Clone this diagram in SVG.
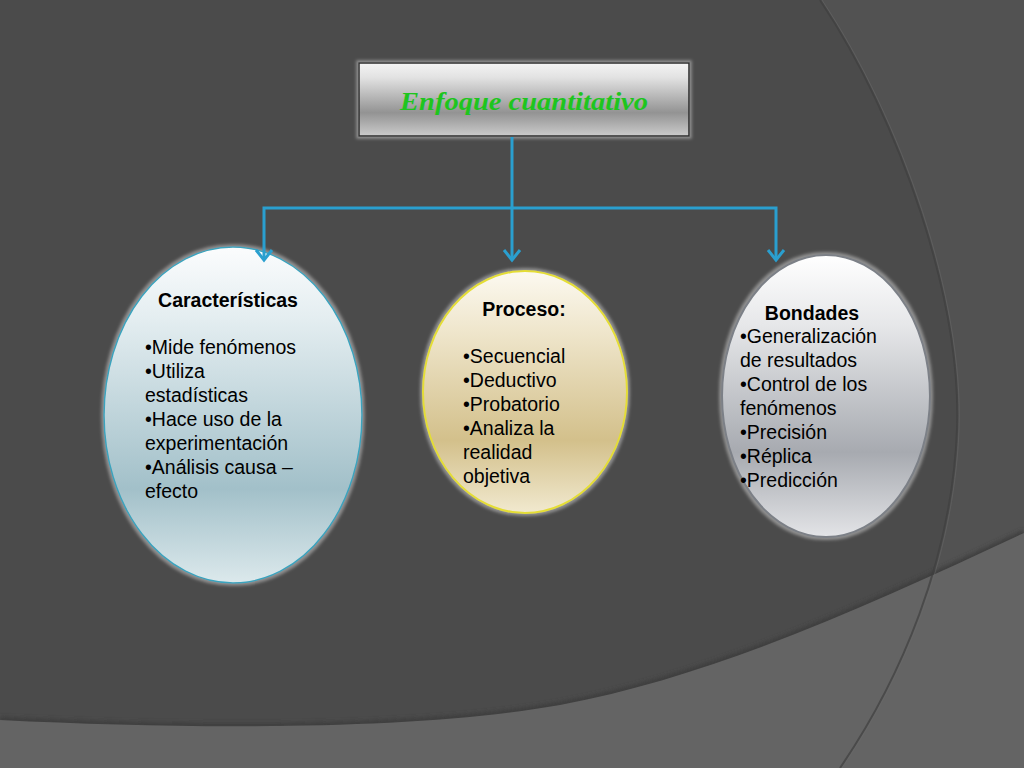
<svg xmlns="http://www.w3.org/2000/svg" width="1024" height="768" viewBox="0 0 1024 768">
<defs>
<style>
.t{font-family:"Liberation Sans",Arial,sans-serif;font-size:19.5px;fill:#000}
.h{font-weight:bold}
.conn{fill:none;stroke:#2a9fcf;stroke-width:3;stroke-linejoin:miter}
</style>
<linearGradient id="gTitle" x1="0" y1="0" x2="0" y2="1">
<stop offset="0" stop-color="#f4f4f4"/><stop offset="0.2" stop-color="#e2e2e2"/><stop offset="0.68" stop-color="#939393"/><stop offset="1" stop-color="#cbcbcb"/>
</linearGradient>
<linearGradient id="gBlue" x1="0" y1="0" x2="0" y2="1">
<stop offset="0" stop-color="#fbfcfd"/><stop offset="0.22" stop-color="#e3edf0"/><stop offset="0.72" stop-color="#a2c0c9"/><stop offset="1" stop-color="#dce9ec"/>
</linearGradient>
<linearGradient id="gGold" x1="0" y1="0" x2="0" y2="1">
<stop offset="0" stop-color="#fcf9f0"/><stop offset="0.25" stop-color="#efe6cc"/><stop offset="0.7" stop-color="#d3c08b"/><stop offset="1" stop-color="#f1e9cf"/>
</linearGradient>
<linearGradient id="gSilver" x1="0" y1="0" x2="0" y2="1">
<stop offset="0" stop-color="#ffffff"/><stop offset="0.25" stop-color="#e6e7e9"/><stop offset="0.7" stop-color="#a7aab0"/><stop offset="1" stop-color="#e3e4e7"/>
</linearGradient>
<filter id="glow" x="-10%" y="-10%" width="120%" height="120%">
<feMorphology in="SourceAlpha" operator="dilate" radius="2" result="d"/>
<feGaussianBlur in="d" stdDeviation="1.6" result="b"/>
<feFlood flood-color="#a0a0a0" flood-opacity="0.8"/>
<feComposite in2="b" operator="in" result="g"/>
<feMerge><feMergeNode in="g"/><feMergeNode in="SourceGraphic"/></feMerge>
</filter>
<filter id="soft" x="-5%" y="-5%" width="110%" height="110%">
<feGaussianBlur stdDeviation="2"/>
</filter>
<marker id="arr" markerUnits="userSpaceOnUse" viewBox="-14 -12 16 24" markerWidth="16" markerHeight="24" refX="0" refY="0" orient="auto" overflow="visible">
<path d="M-10,-8 L0,0 L-10,8" fill="none" stroke="#2a9fcf" stroke-width="3"/>
</marker>
</defs>

<g id="background">
<rect x="0" y="0" width="1024" height="768" fill="#4b4b4b"/>
<path d="M820,0 C900,120 962,300 957,430 C952,560 900,680 840,768 L1024,768 L1024,0 Z" fill="#525252"/>
<path d="M0,720 C200,730 420,730 560,705 C720,675 880,600 1024,533" fill="none" stroke="#3c3c3c" stroke-width="6" filter="url(#soft)"/>
<path d="M0,720 C200,730 420,730 560,705 C720,675 880,600 1024,533 L1024,768 L0,768 Z" fill="#646464"/>
<path d="M820,0 C900,120 962,300 957,430 C952,560 900,680 840,768" fill="none" stroke="#3f3f3f" stroke-width="2" opacity="0.7"/>
<path d="M822,0 C902,120 964,300 959,430 C954,560 902,680 842,768" fill="none" stroke="#6a6a6a" stroke-width="1" opacity="0.5"/>
</g>

<g id="node-title">
<rect x="359" y="63" width="330" height="73" fill="url(#gTitle)" stroke="#2a2a2a" stroke-width="1.5" filter="url(#glow)"/>
<text x="524" y="110" text-anchor="middle" font-family="'Liberation Serif','DejaVu Serif',serif" font-style="italic" font-weight="bold" font-size="26" fill="#1ec51e" textLength="248" lengthAdjust="spacingAndGlyphs">Enfoque cuantitativo</text>
</g>

<g id="node-caracteristicas">
<ellipse cx="233" cy="415" rx="129" ry="168" fill="url(#gBlue)" stroke="#3aa3bd" stroke-width="1.5" filter="url(#glow)"/>
<text class="t h" x="228" y="307" text-anchor="middle">Características</text>
<text class="t" x="145" y="354">•Mide fenómenos</text>
<text class="t" x="145" y="378">•Utiliza</text>
<text class="t" x="145" y="402">estadísticas</text>
<text class="t" x="145" y="426">•Hace uso de la</text>
<text class="t" x="145" y="450">experimentación</text>
<text class="t" x="145" y="474">•Análisis causa –</text>
<text class="t" x="145" y="498">efecto</text>
</g>

<g id="node-proceso">
<ellipse cx="525" cy="392" rx="102" ry="121" fill="url(#gGold)" stroke="#e4dd35" stroke-width="2" filter="url(#glow)"/>
<text class="t h" x="524" y="316" text-anchor="middle">Proceso:</text>
<text class="t" x="463" y="363">•Secuencial</text>
<text class="t" x="463" y="387">•Deductivo</text>
<text class="t" x="463" y="411">•Probatorio</text>
<text class="t" x="463" y="435">•Analiza la</text>
<text class="t" x="463" y="459">realidad</text>
<text class="t" x="463" y="483">objetiva</text>
</g>

<g id="node-bondades">
<ellipse cx="826" cy="396" rx="104" ry="141" fill="url(#gSilver)" stroke="#7c8087" stroke-width="2" filter="url(#glow)"/>
<text class="t h" x="812" y="320" text-anchor="middle">Bondades</text>
<text class="t" x="740" y="343">•Generalización</text>
<text class="t" x="740" y="367">de resultados</text>
<text class="t" x="740" y="391">•Control de los</text>
<text class="t" x="740" y="415">fenómenos</text>
<text class="t" x="740" y="439">•Precisión</text>
<text class="t" x="740" y="463">•Réplica</text>
<text class="t" x="740" y="487">•Predicción</text>
</g>

<g id="connectors">
<path class="conn" d="M512,137 L512,260" marker-end="url(#arr)"/>
<path class="conn" d="M512,208 L264,208 L264,260" marker-end="url(#arr)"/>
<path class="conn" d="M512,208 L776,208 L776,260" marker-end="url(#arr)"/>
</g>
</svg>
